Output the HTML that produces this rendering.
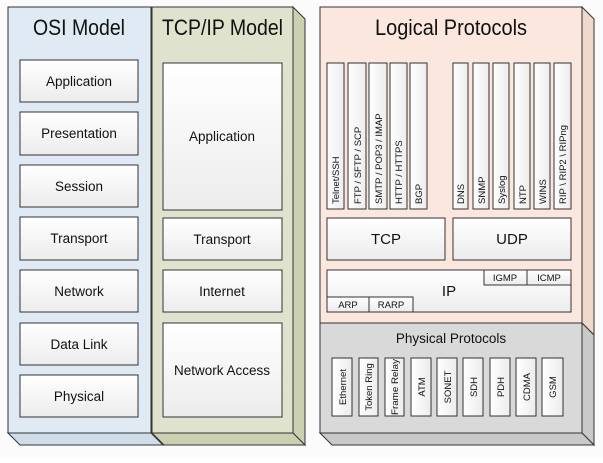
<!DOCTYPE html>
<html><head><style>html,body{margin:0;padding:0;background:#fff} svg text{font-family:"Liberation Sans",sans-serif}</style></head><body>
<svg width="603" height="458" xmlns="http://www.w3.org/2000/svg" font-family="'Liberation Sans', sans-serif">
<defs>
<linearGradient id="g" x1="0" y1="0" x2="0" y2="1"><stop offset="0" stop-color="#ffffff"/><stop offset="1" stop-color="#ececec"/></linearGradient>
<linearGradient id="gh" x1="0" y1="0" x2="1" y2="0"><stop offset="0" stop-color="#ffffff"/><stop offset="1" stop-color="#ececec"/></linearGradient>
</defs>
<rect width="603" height="458" fill="#fbfbfb"/>
<g stroke="#333" stroke-width="1">
<polygon points="8,433 151,433 163,445 20,445" fill="#cfdde9"/>
<rect x="8" y="7" width="143" height="426" fill="#e0eaf4"/>
<polygon points="293,7 305,19 305,445 293,433" fill="#cbd1b0"/>
<polygon points="152,433 293,433 305,445 164,445" fill="#cbd1b0"/>
<rect x="152" y="7" width="141" height="426" fill="#dfe3cd"/>
<polygon points="582,7 594,19 594,335 582,323" fill="#efd8cc"/>
<polygon points="582,323 594,335 594,445 582,433" fill="#c9c9c9"/>
<polygon points="320,433 582,433 594,445 332,445" fill="#c9c9c9"/>
<rect x="320" y="7" width="262" height="316" fill="#fbe7dd"/>
<rect x="320" y="323" width="262" height="110" fill="#d9d9d9"/>
</g>
<g font-size="22" fill="#111">
<text x="33" y="35" textLength="92" lengthAdjust="spacingAndGlyphs">OSI Model</text>
<text x="162" y="35" textLength="121" lengthAdjust="spacingAndGlyphs">TCP/IP Model</text>
<text x="375" y="35" textLength="152" lengthAdjust="spacingAndGlyphs">Logical Protocols</text>
</g>
<g stroke="#333" fill="url(#g)">
<rect x="20" y="60" width="118" height="42"/><rect x="20" y="112" width="118" height="43"/>
<rect x="20" y="165" width="118" height="42"/><rect x="20" y="217" width="118" height="43"/>
<rect x="20" y="270" width="118" height="42"/><rect x="20" y="323" width="118" height="42"/>
<rect x="20" y="375" width="118" height="42"/>
<rect x="163" y="63" width="119" height="147"/><rect x="163" y="218" width="119" height="42"/>
<rect x="163" y="270" width="119" height="42"/><rect x="163" y="323" width="119" height="94"/>
<rect x="327" y="218" width="118" height="42"/><rect x="453" y="218" width="118" height="42"/>
<rect x="327" y="270" width="244" height="42"/>
<rect x="484" y="270" width="43" height="15"/><rect x="527" y="270" width="44" height="15"/>
<rect x="327" y="297" width="42" height="15"/><rect x="369" y="297" width="44" height="15"/>
</g>
<g stroke="#333" fill="url(#gh)">
<rect x="327" y="63" width="17" height="146"/><rect x="348" y="63" width="18" height="146"/>
<rect x="369" y="63" width="18" height="146"/><rect x="390" y="63" width="17" height="146"/>
<rect x="410" y="63" width="17" height="146"/>
<rect x="453" y="63" width="15" height="146"/><rect x="473" y="63" width="16" height="146"/>
<rect x="493" y="63" width="16" height="146"/><rect x="514" y="63" width="16" height="146"/>
<rect x="534" y="63" width="16" height="146"/><rect x="554" y="63" width="17" height="146"/>
<rect x="332" y="358" width="20" height="58"/><rect x="359" y="358" width="19" height="58"/>
<rect x="385" y="358" width="19" height="58"/><rect x="411" y="358" width="20" height="58"/>
<rect x="437" y="358" width="20" height="58"/><rect x="463" y="358" width="20" height="58"/>
<rect x="490" y="358" width="20" height="58"/><rect x="516" y="358" width="20" height="58"/>
<rect x="542" y="358" width="21" height="58"/>
</g>
<g font-size="13.5" fill="#111" text-anchor="middle">
<text x="79" y="86">Application</text><text x="79" y="138">Presentation</text>
<text x="79" y="191">Session</text><text x="79" y="243">Transport</text>
<text x="79" y="296">Network</text><text x="79" y="349">Data Link</text>
<text x="79" y="401">Physical</text>
<text x="222" y="141">Application</text><text x="222" y="244">Transport</text>
<text x="222" y="296">Internet</text><text x="222" y="375">Network Access</text>
<text x="386" y="244" font-size="15">TCP</text><text x="512" y="244" font-size="15">UDP</text>
<text x="449" y="296" font-size="15">IP</text>
<text x="451" y="343">Physical Protocols</text>
</g>
<g font-size="9.5" fill="#111" text-anchor="middle">
<text x="505" y="281">IGMP</text><text x="549" y="281">ICMP</text>
<text x="348" y="308">ARP</text><text x="391" y="308">RARP</text>
</g>
<g font-size="9.5" fill="#111" text-anchor="start">
<text transform="translate(339,204) rotate(-90)">Telnet/SSH</text>
<text transform="translate(361,204) rotate(-90)">FTP / SFTP / SCP</text>
<text transform="translate(382,204) rotate(-90)">SMTP / POP3 / IMAP</text>
<text transform="translate(402,204) rotate(-90)">HTTP / HTTPS</text>
<text transform="translate(422,204) rotate(-90)">BGP</text>
<text transform="translate(464,204) rotate(-90)">DNS</text>
<text transform="translate(485,204) rotate(-90)">SNMP</text>
<text transform="translate(505,204) rotate(-90)">Syslog</text>
<text transform="translate(526,204) rotate(-90)">NTP</text>
<text transform="translate(546,204) rotate(-90)">WINS</text>
<text transform="translate(566,204) rotate(-90)">RIP \ RIP2 \ RIPng</text>
</g>
<g font-size="9.5" fill="#111" text-anchor="middle">
<text transform="translate(346,387) rotate(-90)">Ethernet</text>
<text transform="translate(372,387) rotate(-90)">Token Ring</text>
<text transform="translate(398,387) rotate(-90)" textLength="56" lengthAdjust="spacingAndGlyphs">Frame Relay</text>
<text transform="translate(425,387) rotate(-90)">ATM</text>
<text transform="translate(451,387) rotate(-90)">SONET</text>
<text transform="translate(477,387) rotate(-90)">SDH</text>
<text transform="translate(504,387) rotate(-90)">PDH</text>
<text transform="translate(530,387) rotate(-90)">CDMA</text>
<text transform="translate(556,387) rotate(-90)">GSM</text>
</g>
</svg>
</body></html>
